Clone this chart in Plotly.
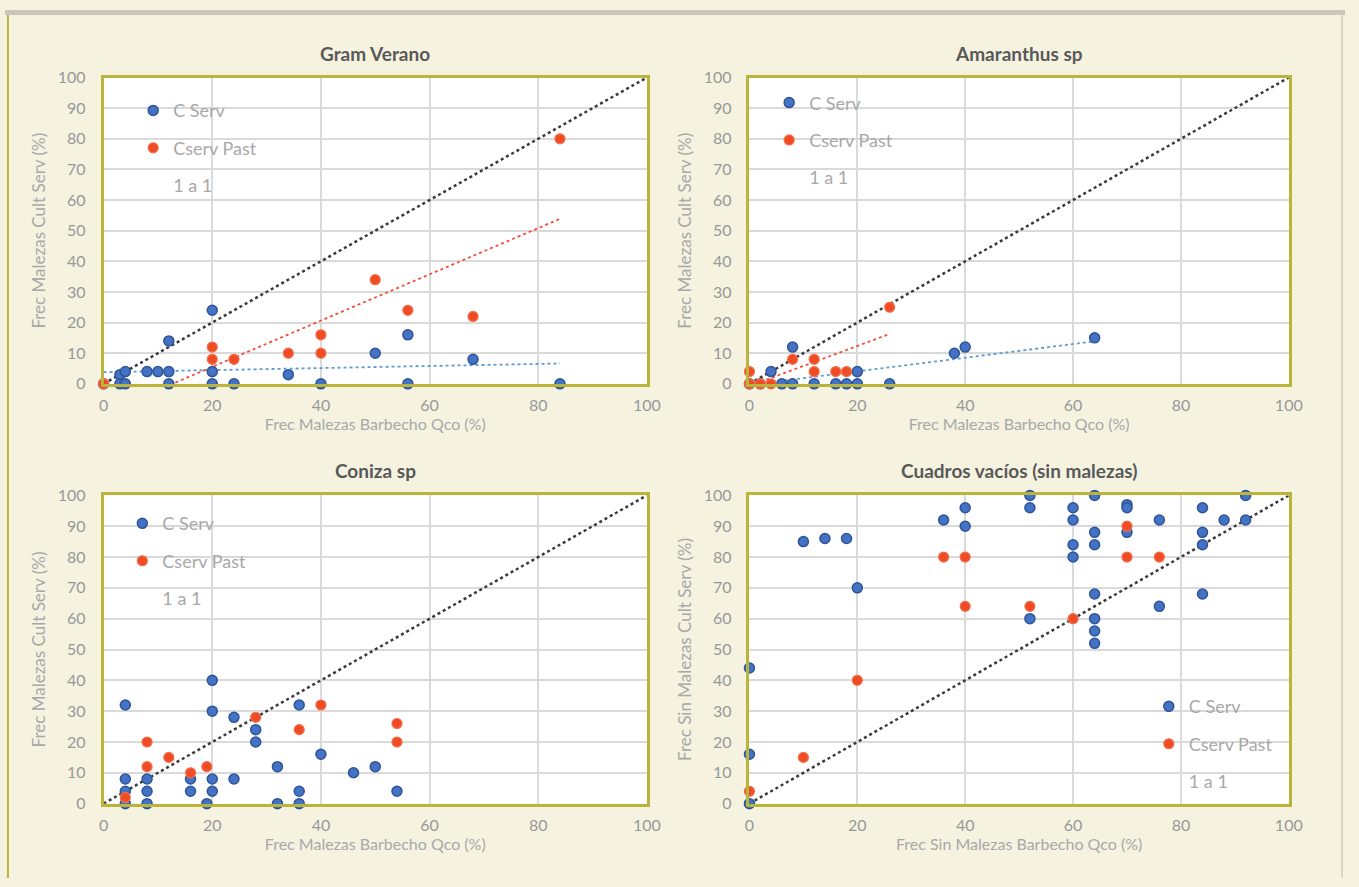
import numpy as np
import plotly.graph_objects as go

# ---------------- data ----------------
titles = ["Gram Verano", "Amaranthus sp", "Coniza sp", "Cuadros vacíos (sin malezas)"]
x_titles = ["Frec Malezas Barbecho Qco (%)", "Frec Malezas Barbecho Qco (%)",
            "Frec Malezas Barbecho Qco (%)", "Frec Sin Malezas Barbecho Qco (%)"]
y_titles = ["Frec Malezas Cult Serv (%)", "Frec Malezas Cult Serv (%)",
            "Frec Malezas Cult Serv (%)", "Frec Sin Malezas Cult Serv (%)"]
series_names = ["C Serv", "Cserv Past", "1 a 1"]

gv_cserv_x = [0, 3, 4, 3, 4, 8, 10, 12, 12, 12, 20, 20, 20, 24, 34, 40, 50, 56, 56, 68, 84]
gv_cserv_y = [0, 3, 4, 0, 0, 4, 4, 4, 14, 0, 24, 4, 0, 0, 3, 0, 10, 16, 0, 8, 0]
gv_past_x = [0, 20, 20, 24, 34, 40, 40, 50, 56, 68, 84]
gv_past_y = [0, 12, 8, 8, 10, 16, 10, 34, 24, 22, 80]

am_cserv_x = [0, 2, 6, 8, 12, 16, 18, 20, 26, 4, 8, 20, 38, 40, 64]
am_cserv_y = [0, 0, 0, 0, 0, 0, 0, 0, 0, 4, 12, 4, 10, 12, 15]
am_past_x = [0, 0, 2, 4, 8, 12, 12, 16, 18, 26]
am_past_y = [4, 0, 0, 0, 8, 8, 4, 4, 4, 25]

co_cserv_x = [4, 20, 20, 24, 28, 28, 36, 40, 32, 46, 50, 54, 4, 4, 8, 8, 16, 16, 20, 20, 24, 36, 4, 8, 19, 32, 36]
co_cserv_y = [32, 40, 30, 28, 24, 20, 32, 16, 12, 10, 12, 4, 8, 4, 8, 4, 8, 4, 8, 4, 8, 4, 0, 0, 0, 0, 0]
co_past_x = [40, 28, 36, 54, 54, 8, 8, 12, 16, 19, 4]
co_past_y = [32, 28, 24, 26, 20, 20, 12, 15, 10, 12, 2]

cv_cserv_x = [52, 64, 92, 40, 52, 60, 70, 70, 84, 36, 60, 76, 88, 92, 40, 64, 70, 84, 64, 60, 84, 60,
              10, 14, 18, 20, 64, 84, 76, 52, 64, 64, 64, 0, 0, 0]
cv_cserv_y = [100, 100, 100, 96, 96, 96, 97, 96, 96, 92, 92, 92, 92, 92, 90, 88, 88, 88, 84, 84, 84, 80,
              85, 86, 86, 70, 68, 68, 64, 60, 60, 56, 52, 44, 16, 0]
cv_past_x = [70, 36, 40, 70, 76, 40, 52, 60, 20, 10, 0]
cv_past_y = [90, 80, 80, 80, 80, 64, 64, 60, 40, 15, 4]

one_to_one = [0, 100]
x_ticks = [0, 20, 40, 60, 80, 100]
y_ticks = [0, 10, 20, 30, 40, 50, 60, 70, 80, 90, 100]

panels = [
    (gv_cserv_x, gv_cserv_y, gv_past_x, gv_past_y, True),
    (am_cserv_x, am_cserv_y, am_past_x, am_past_y, True),
    (co_cserv_x, co_cserv_y, co_past_x, co_past_y, False),
    (cv_cserv_x, cv_cserv_y, cv_past_x, cv_past_y, False),
]

# ---------------- styling ----------------
W, H = 1359, 887
PAPER = "#F5F3E0"
FRAME = "#B8B43C"
GRID = "#DADADA"
TICK = "#989898"
LEG = "#A8A8A8"
TITLE = "#595959"
BLUE = "#4472C4"
BLUE_EDGE = "#2F5597"
RED = "#EF4C26"
RED_EDGE = "#F36E48"
FONT = "Lato, 'Open Sans', sans-serif"

col_px = [(100, 651), (755, 1302)]
row_px = [(69, 382), (496, 811)]
legend_px = [(130, 84), (775, 76), (119, 506), (1160, 693)]

fig = go.Figure()
layout = dict(width=W, height=H, autosize=False, paper_bgcolor=PAPER, plot_bgcolor="white",
              margin=dict(l=0, r=0, t=0, b=0), font=dict(family=FONT, color=TICK), annotations=[],
              shapes=[])

for i, (cx, cy, px_, py_, trend) in enumerate(panels):
    r, c = divmod(i, 2)
    n = "" if i == 0 else str(i + 1)
    xa, ya = "x" + n, "y" + n
    leg = "legend" + n
    x0, x1 = col_px[c]
    y0, y1 = row_px[r]
    xdom = [x0 / W, x1 / W]
    ydom = [(H - y1) / H, (H - y0) / H]

    axis_common = dict(range=[0, 100], showgrid=True, gridcolor=GRID, gridwidth=1.5,
                       showline=True, linecolor=FRAME, linewidth=2.5, mirror=True,
                       zeroline=False, tickfont=dict(size=16, color=TICK, family=FONT),
                       ticks="", layer="above traces", fixedrange=True)
    layout["xaxis" + n] = dict(axis_common, domain=xdom, anchor=ya, tickvals=x_ticks,
                               ticklabelstandoff=5,
                               title=dict(text=x_titles[i], standoff=3,
                                          font=dict(size=16, color=LEG, family=FONT)))
    layout["yaxis" + n] = dict(axis_common, domain=ydom, anchor=xa, tickvals=y_ticks,
                               ticklabelstandoff=12,
                               title=dict(text=y_titles[i], standoff=8,
                                          font=dict(size=17, color=LEG, family=FONT)))

    # 1:1 line
    fig.add_trace(go.Scatter(x=one_to_one, y=one_to_one, mode="lines", xaxis=xa, yaxis=ya,
                             line=dict(color="#3A3A3A", width=2.5, dash="dot"),
                             showlegend=False, hoverinfo="skip"))
    # trend lines (least squares fit of each series)
    if trend:
        for sx, sy, col in ((cx, cy, "#5B9BD5"), (px_, py_, "#F0503A")):
            b, a = np.polyfit(sx, sy, 1)
            tx = np.array([min(sx), max(sx)], dtype=float)
            fig.add_trace(go.Scatter(x=tx, y=a + b * tx, mode="lines", xaxis=xa, yaxis=ya,
                                     line=dict(color=col, width=1.8, dash="dot"),
                                     showlegend=False, hoverinfo="skip"))
    fig.add_trace(go.Scatter(x=cx, y=cy, mode="markers", name=series_names[0], xaxis=xa, yaxis=ya,
                             legend=leg, legendgroup=f"a{i}", cliponaxis=False,
                             marker=dict(size=10, color=BLUE, line=dict(color=BLUE_EDGE, width=1.5))))
    fig.add_trace(go.Scatter(x=px_, y=py_, mode="markers", name=series_names[1], xaxis=xa, yaxis=ya,
                             legend=leg, legendgroup=f"b{i}", cliponaxis=False,
                             marker=dict(size=10, color=RED, line=dict(color=RED_EDGE, width=1.2))))
    fig.add_trace(go.Scatter(x=[None], y=[None], mode="markers", name=series_names[2], xaxis=xa,
                             yaxis=ya, legend=leg, legendgroup=f"c{i}",
                             marker=dict(size=10, color="rgba(0,0,0,0)",
                                         line=dict(width=0, color="rgba(0,0,0,0)"))))

    lx, ly = legend_px[i]
    layout[leg] = dict(x=lx / W, y=(H - ly) / H, xanchor="left", yanchor="top",
                       bgcolor="rgba(0,0,0,0)", font=dict(size=18, color=LEG, family=FONT),
                       tracegroupgap=11, itemwidth=30, traceorder="grouped")

    # subplot title
    layout["annotations"].append(dict(text="<b>" + titles[i] + "</b>", xref="paper", yref="paper",
                                      x=(x0 + x1) / 2 / W, y=(H - (y0 - 25)) / H,
                                      showarrow=False, xanchor="center", yanchor="middle",
                                      font=dict(size=19, color=TITLE, family=FONT)))

# outer frame of the picture
layout["shapes"].append(dict(type="rect", xref="paper", yref="paper", x0=0, x1=1, y0=1 - 5 / H, y1=1,
                             fillcolor="#C9C7BC", line=dict(width=0)))
layout["shapes"].append(dict(type="line", xref="paper", yref="paper", x0=3 / W, x1=3 / W,
                             y0=0, y1=1 - 5 / H, line=dict(color=FRAME, width=2)))
layout["shapes"].append(dict(type="line", xref="paper", yref="paper", x0=1 - 3 / W, x1=1 - 3 / W,
                             y0=0, y1=1 - 5 / H, line=dict(color="#D8D6C4", width=2)))

fig.update_layout(**layout)
fig.write_html("out.html", config={"displayModeBar": False},
               post_script="document.body.style.margin='0';")
